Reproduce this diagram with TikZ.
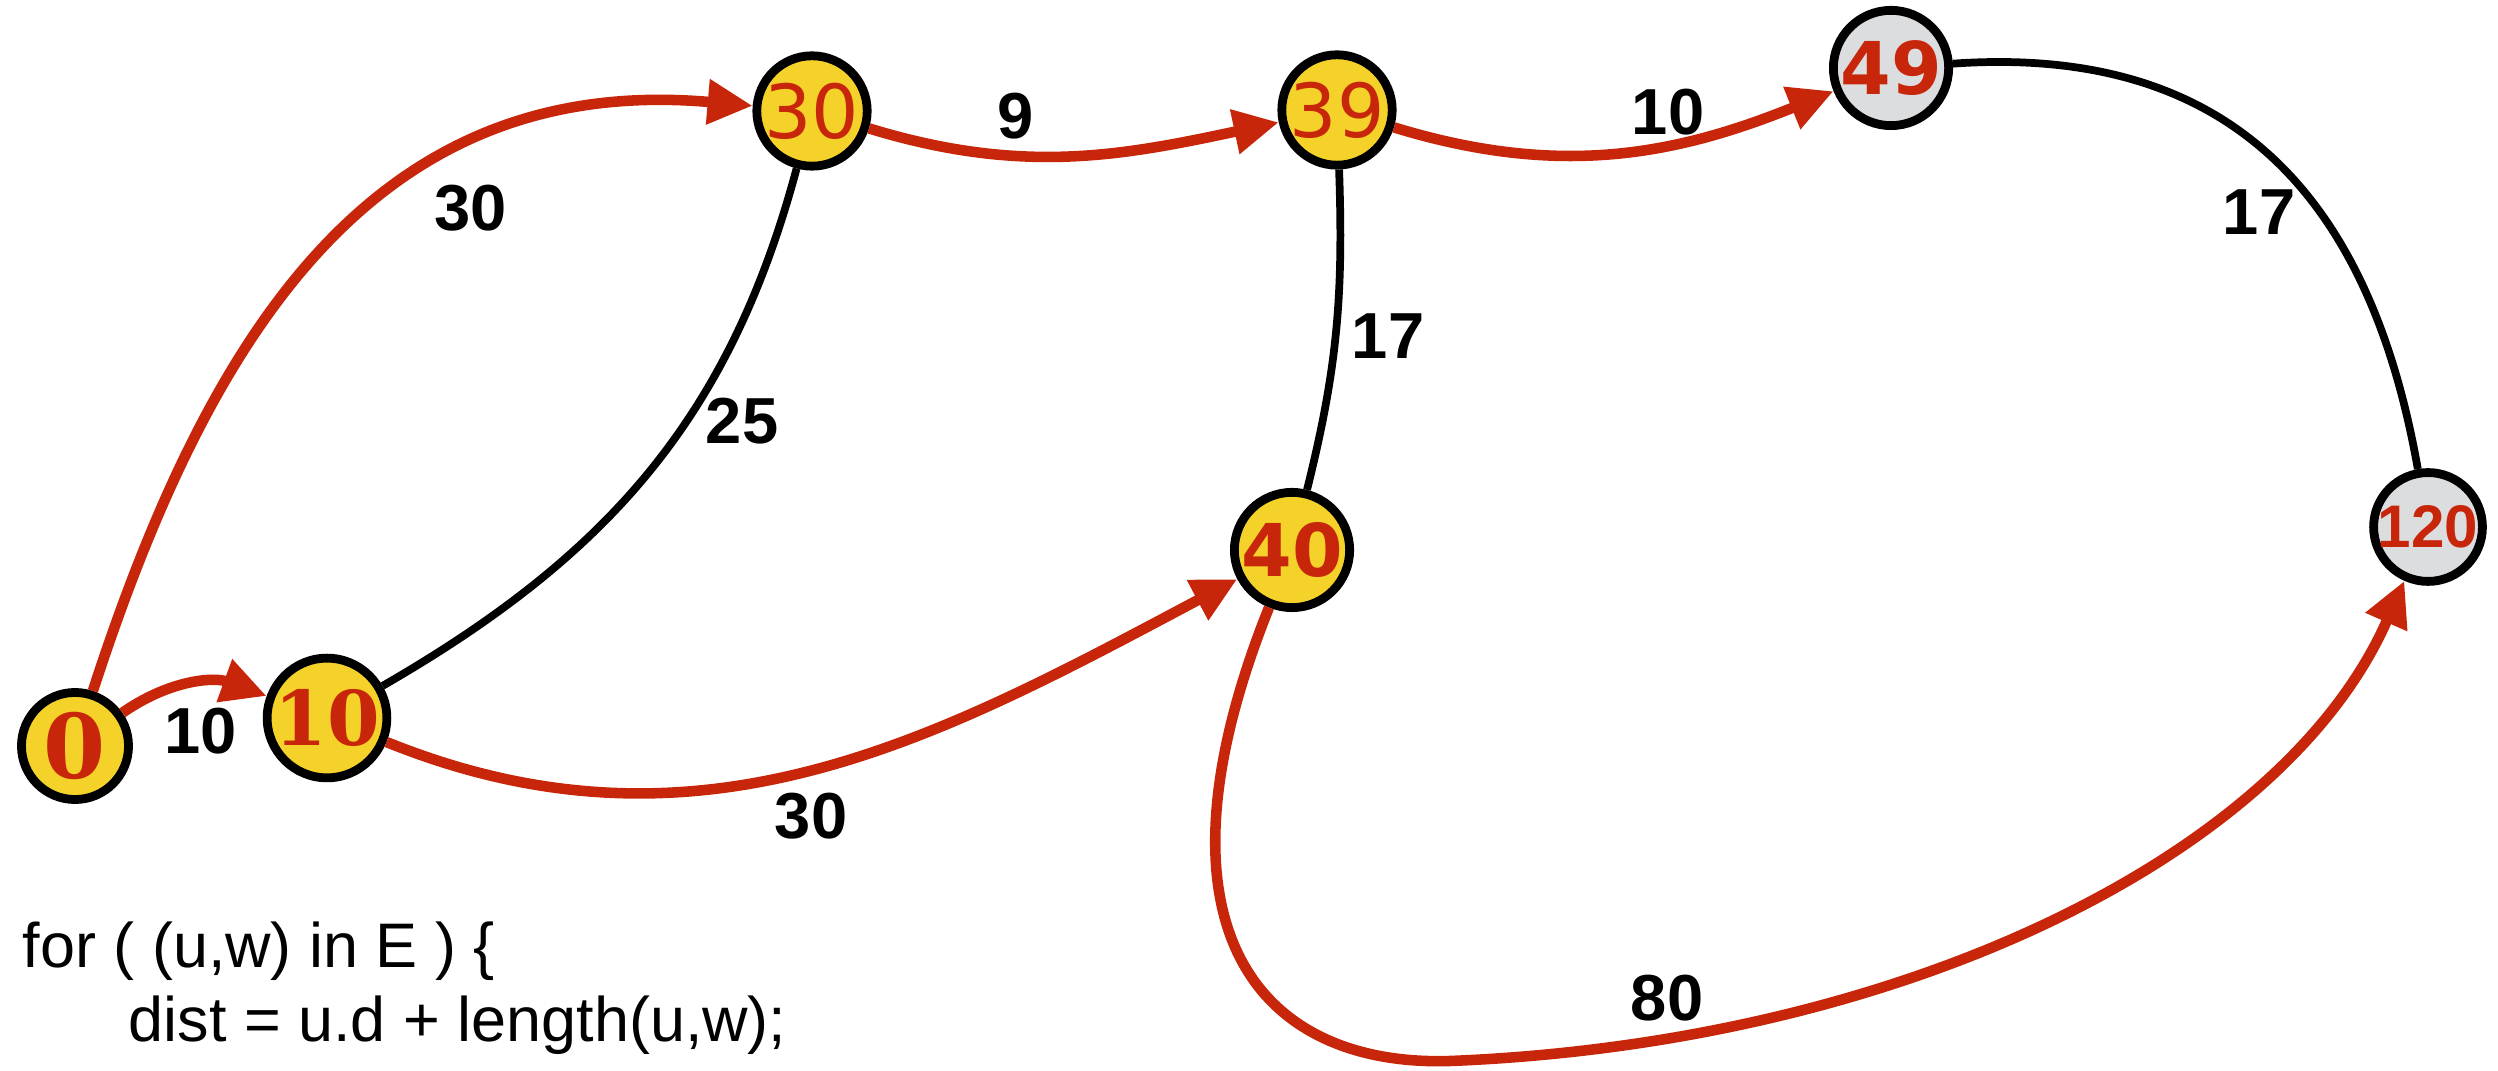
\documentclass[tikz,border=0pt]{standalone}
\usepackage{fontspec}
\usepackage{tikz}
\usetikzlibrary{arrows.meta}

\newfontfamily\lblfont{Liberation Sans}
\newfontfamily\codefont{Liberation Sans}
\newfontfamily\serifdigits{DejaVu Serif}
\newfontfamily\sansdigits{DejaVu Sans}

\definecolor{pathred}{RGB}{200,38,10}
\definecolor{nodeyellow}{RGB}{245,210,42}
\definecolor{nodegrey}{RGB}{220,221,223}

\begin{document}
\begin{tikzpicture}[x=0.01cm, y=0.01cm,
        vertex/.style={circle, draw=black, line width=2.5pt, minimum size=1.07cm, inner sep=0pt, text=pathred},
        settled/.style={vertex, fill=nodeyellow},
        pending/.style={vertex, fill=nodegrey},
        relax/.style={draw=pathred, line width=3pt, -{Triangle[length=0.45cm, width=0.43cm]}},
        plain/.style={draw=black, line width=2.2pt},
        wlabel/.style={font=\lblfont\bfseries\fontsize{18.5}{20}\selectfont},
        codetext/.style={font=\codefont\fontsize{17.9}{20}\selectfont, inner sep=0pt, anchor=base west}]
        \useasboundingbox (0,0) rectangle (2498,1070);

        % Vertices
        \node[settled, font=\serifdigits\bfseries\fontsize{25.4}{26}\selectfont] (n0) at (75,324) {0};
        \node[settled, font=\serifdigits\bfseries\fontsize{21.5}{22}\selectfont] (n10) at (327,352) {10};
        \node[settled, font=\sansdigits\fontsize{21.2}{22}\selectfont] (n30) at (812,959) {30};
        \node[settled, font=\sansdigits\fontsize{21.2}{22}\selectfont] (n39) at (1337,960) {39};
        \node[settled, font=\sansdigits\bfseries\fontsize{20.7}{22}\selectfont] (n40) at (1292,520) {40};
        \node[pending, font=\sansdigits\bfseries\fontsize{20.7}{22}\selectfont] (n49) at (1891,1002) {49};
        \node[pending, font=\lblfont\bfseries\fontsize{17.1}{18}\selectfont] (n120) at (2428,543) {120};

        % Relaxed edges
        \coordinate (dip) at (1450,9);
        \draw[relax] (n0) to[out=72, in=175, looseness=1.1] (n30);
        \draw[relax] (n0) to[out=35, in=160] (n10);
        \draw[relax] (n10) to[out=-22, in=208] (n40);
        \draw[relax] (n30) to[out=-17, in=192] (n39);
        \draw[relax] (n39) to[out=-17, in=202] (n49);
        \draw[relax] (n40) .. controls (1140,140) and (1260,3) .. (dip)
                .. controls (1900,27) and (2283,213) .. (n120);

        % Other edges
        \draw[plain] (n10) to[out=30, in=-105] (n30);
        \draw[plain] (n39) to[out=-88, in=76] (n40);
        \draw[plain] (n49) to[out=4, in=100, looseness=1.15] (n120);

        % Weights
        \node[wlabel] (w0_30) at (471,862) {30};
        \node[wlabel] (w0_10) at (201,339) {10};
        \node[wlabel] (w10_30) at (742,649) {25};
        \node[wlabel] (w10_40) at (811,254) {30};
        \node[wlabel] (w30_39) at (1016,954) {9};
        \node[wlabel] (w39_40) at (1388,734) {17};
        \node[wlabel] (w39_49) at (1668,958) {10};
        \node[wlabel] (w49_120) at (2259,858) {17};
        \node[wlabel] (w40_120) at (1667,72) {80};

        % Code
        \node[codetext] (loop) at (22,102) {for ( (u,w) in E ) \{};
        \node[codetext] (update) at (128,28) {dist = u.d + length(u,w);};
\end{tikzpicture}
\end{document}
